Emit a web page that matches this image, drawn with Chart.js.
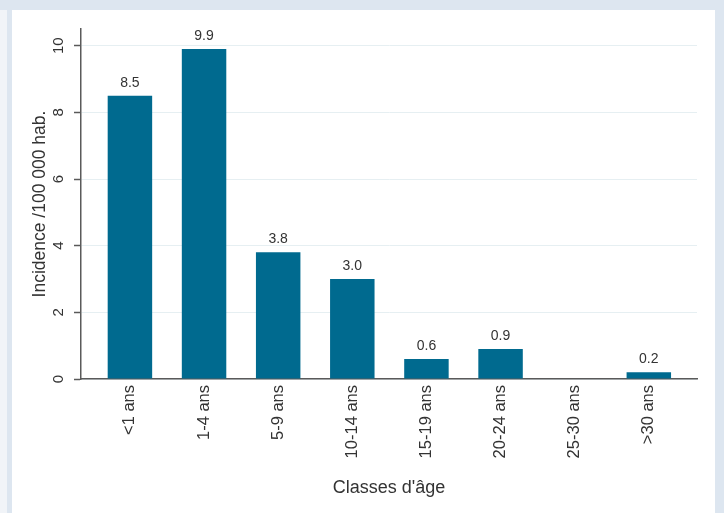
<!DOCTYPE html>
<html>
<head>
<meta charset="utf-8">
<script src="https://cdn.jsdelivr.net/npm/chart.js@4"></script>
<style>
  html, body { margin: 0; padding: 0; }
  body { width: 724px; height: 513px; background: #dde6f0; position: relative; overflow: hidden; }
  #strip { position: absolute; left: 0; top: 10px; width: 7px; height: 503px; background: #f1f4f8; }
  #panel { position: absolute; left: 12px; top: 10px; width: 703px; height: 503px; background: #ffffff; }
</style>
</head>
<body>
<div id="strip"></div>
<div id="panel"><canvas id="chart" width="703" height="503"></canvas></div>
<script>
// Data
const ageClasses = ["<1 ans", "1-4 ans", "5-9 ans", "10-14 ans", "15-19 ans", "20-24 ans", "25-30 ans", ">30 ans"];
const incidence = [8.5, 9.9, 3.8, 3.0, 0.6, 0.9, null, 0.2];
const yTicks = [0, 2, 4, 6, 8, 10];

const barColor = "#006a8f";
const axisColor = "#5a5a5a";
const textColor = "#333333";
const fontFamily = "'Liberation Sans', Arial, sans-serif";

// value labels above bars
const valueLabels = {
  id: "valueLabels",
  afterDatasetsDraw(chart) {
    const ctx = chart.ctx;
    const meta = chart.getDatasetMeta(0);
    ctx.save();
    ctx.font = "14px " + fontFamily;
    ctx.fillStyle = textColor;
    ctx.textAlign = "center";
    ctx.textBaseline = "alphabetic";
    meta.data.forEach((bar, i) => {
      if (incidence[i] === null) return;
      ctx.fillText(incidence[i].toFixed(1), bar.x, bar.y - 9);
    });
    ctx.restore();
  }
};

const ctx = document.getElementById("chart").getContext("2d");
new Chart(ctx, {
  type: "bar",
  data: {
    datasets: [{
      data: incidence.map((v, i) => ({ x: i, y: v })),
      backgroundColor: barColor,
      borderWidth: 0,
      barPercentage: 0.6,
      categoryPercentage: 1
    }]
  },
  options: {
    responsive: false,
    animation: false,
    layout: { padding: { top: 19, right: 18, left: 0, bottom: 0 } },
    plugins: { legend: { display: false }, tooltip: { enabled: false } },
    scales: {
      x: {
        type: "linear",
        offset: false,
        min: -0.66,
        max: 7.65,
        afterBuildTicks: (scale) => { scale.ticks = ageClasses.map((_, i) => ({ value: i })); },
        afterFit: (scale) => { scale.height = 134; },
        grid: { display: true, offset: false, drawOnChartArea: false, drawTicks: false },
        border: { color: axisColor, width: 1.5 },
        ticks: {
          autoSkip: false,
          minRotation: 90,
          maxRotation: 90,
          padding: 6,
          color: textColor,
          font: { family: fontFamily, size: 16.5 },
          callback: (value) => ageClasses[value]
        },
        title: {
          display: true,
          text: "Classes d'âge",
          color: textColor,
          font: { family: fontFamily, size: 18 },
          padding: { top: 4, bottom: 14 }
        }
      },
      y: {
        min: 0,
        max: 10.5,
        afterBuildTicks: (scale) => { scale.ticks = yTicks.map((v) => ({ value: v })); },
        afterFit: (scale) => { scale.width = 69; },
        grid: { color: "#e6eff2", lineWidth: 1, tickColor: axisColor, tickLength: 7, tickWidth: 1.5 },
        border: { color: axisColor, width: 1.5 },
        ticks: {
          minRotation: 90,
          maxRotation: 90,
          crossAlign: "center",
          padding: 7,
          color: textColor,
          font: { family: fontFamily, size: 15 }
        },
        title: {
          display: true,
          text: "Incidence /100 000 hab.",
          color: textColor,
          font: { family: fontFamily, size: 17.5 },
          padding: { top: 18, bottom: 0 }
        }
      }
    }
  },
  plugins: [valueLabels]
});
</script>
</body>
</html>
